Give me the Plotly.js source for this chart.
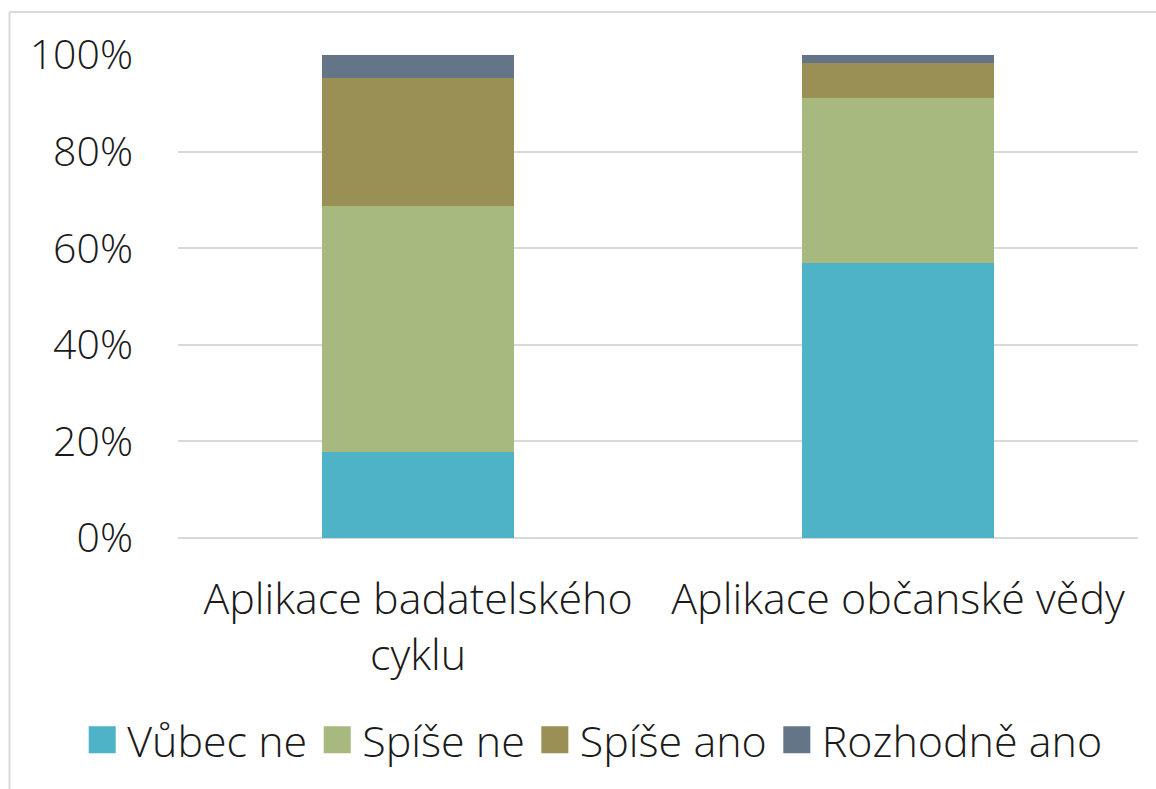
<!DOCTYPE html>
<html>
<head>
<meta charset="utf-8">
<script src="https://cdn.plot.ly/plotly-3.0.1.min.js"></script>
<style>
html,body{margin:0;padding:0;background:#fff;}
#chart{width:1156px;height:789px;}
</style>
</head>
<body>
<div id="chart"></div>
<script>
const categories = ["Aplikace badatelského<br>cyklu", "Aplikace občanské vědy"];
const seriesNames = ["Vůbec ne", "Spíše ne", "Spíše ano", "Rozhodně ano"];
const vubecNe = [0.178, 0.569];
const spiseNe = [0.509, 0.341];
const spiseAno = [0.266, 0.074];
const rozhodneAno = [0.047, 0.016];
const colors = ["#4fb3c8", "#a7b97e", "#9a8f54", "#657588"];
const yTickVals = [0, 0.2, 0.4, 0.6, 0.8, 1.0];
const yTickText = ["0%", "20%", "40%", "60%", "80%", "100%"];

const seriesValues = [vubecNe, spiseNe, spiseAno, rozhodneAno];
const fontFam = "'Open Sans', 'Noto Sans', sans-serif";
const FS = 41;
const FSX = 43;

const traces = seriesValues.map((vals, i) => ({
  type: "bar",
  name: seriesNames[i],
  x: categories,
  y: vals,
  marker: {color: colors[i], line: {width: 0}},
  hoverinfo: "name+y"
}));

const layout = {
  width: 1156,
  height: 789,
  barmode: "stack",
  bargap: 0.6,
  paper_bgcolor: "#ffffff",
  plot_bgcolor: "#ffffff",
  margin: {l: 178, r: 18, t: 55, b: 251, autoexpand: false},
  font: {family: fontFam, color: "#1a1a1a", size: FS, weight: 300},
  xaxis: {
    type: "category",
    showgrid: false,
    showline: false,
    zeroline: false,
    ticks: "",
    ticklabelstandoff: 32,
    automargin: false,
    tickfont: {family: fontFam, size: FSX, color: "#1a1a1a", weight: 300}
  },
  yaxis: {
    range: [0, 1],
    tickvals: yTickVals,
    ticktext: yTickText,
    showgrid: true,
    gridcolor: "#d9d9d9",
    gridwidth: 1.5,
    zeroline: true,
    zerolinecolor: "#d9d9d9",
    zerolinewidth: 1.5,
    showline: false,
    ticks: "",
    ticklabelstandoff: 44,
    automargin: false,
    tickfont: {family: fontFam, size: FS, color: "#1a1a1a", weight: 300}
  },
  showlegend: true,
  legend: {
    orientation: "h",
    x: -0.105,
    xanchor: "left",
    y: -0.418,
    yanchor: "middle",
    traceorder: "normal",
    itemwidth: 40,
    font: {family: fontFam, size: FSX, color: "#1a1a1a", weight: 300},
    itemclick: false,
    itemdoubleclick: false
  },
  shapes: [
    {type: "line", xref: "paper", yref: "paper", x0: -0.1755, x1: -0.1755, y0: 1.089, y1: -0.53,
     line: {color: "#d9d9d9", width: 2}},
    {type: "line", xref: "paper", yref: "paper", x0: -0.1755, x1: 1.03, y0: 1.089, y1: 1.089,
     line: {color: "#d9d9d9", width: 2}}
  ]
};

function enlargeSwatches() {
  document.querySelectorAll("#chart .legend .legendpoints path").forEach(p => {
    p.setAttribute("d", "M13.5,13.5H-13.5V-13.5H13.5Z");
  });
}

Plotly.newPlot("chart", traces, layout, {displayModeBar: false}).then(() => {
  enlargeSwatches();
  setTimeout(enlargeSwatches, 50);
});
</script>
</body>
</html>
